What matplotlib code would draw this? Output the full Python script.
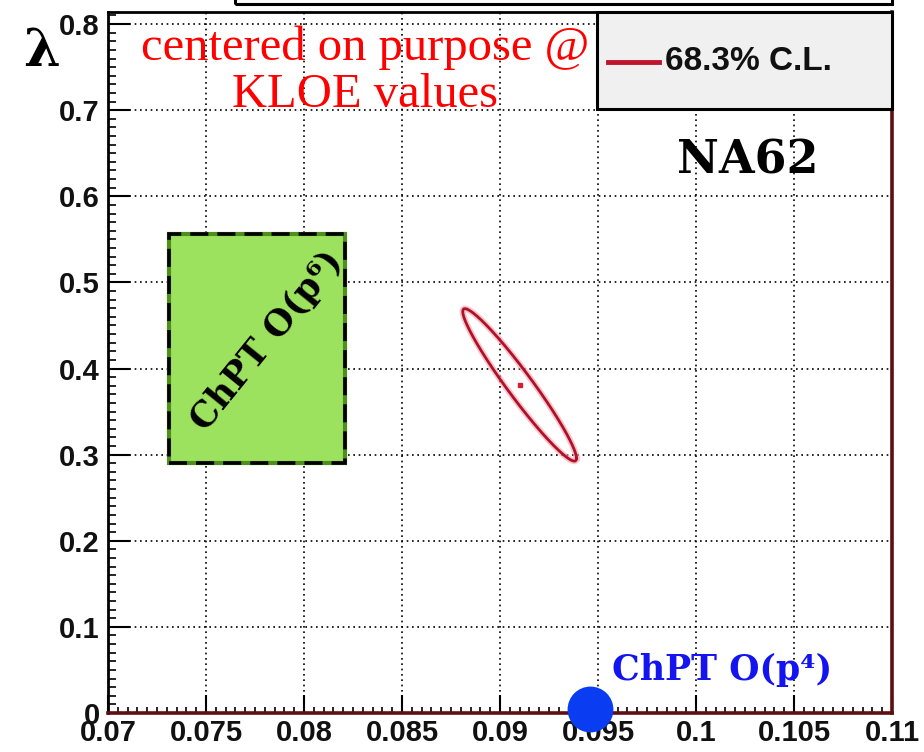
import numpy as np
import matplotlib
matplotlib.use('Agg')
import matplotlib.pyplot as plt
from matplotlib.patches import Rectangle
from matplotlib.lines import Line2D
from matplotlib.ticker import MultipleLocator

# fitted 68.3% C.L. contour (lambda' vs lambda'')
fit_center = (0.0910, 0.381)
fit_sigma = (0.0029, 0.0885)
fit_rho = -0.962

# ChPT O(p6) band
p6_x = (0.0731, 0.0821)
p6_y = (0.290, 0.556)

# ChPT O(p4) prediction
p4_point = (0.0946, 0.005)

x_ticks = [0.07, 0.075, 0.08, 0.085, 0.09, 0.095, 0.1, 0.105, 0.11]
x_labels = ['0.07', '0.075', '0.08', '0.085', '0.09', '0.095', '0.1', '0.105', '0.11']
y_ticks = [0, 0.1, 0.2, 0.3, 0.4, 0.5, 0.6, 0.7, 0.8]
y_labels = ['0', '0.1', '0.2', '0.3', '0.4', '0.5', '0.6', '0.7', '0.8']

tick_font = ['Liberation Sans', 'DejaVu Sans']
serif_bold = ['DejaVu Serif']

fig = plt.figure(figsize=(9.24, 7.52), dpi=100)
ax = fig.add_axes([108 / 924, 39 / 752, 784 / 924, 701 / 752])
ax.set_xlim(0.07, 0.11)
ax.set_ylim(0, 0.814)

# dotted grid on major ticks
ax.set_xticks(x_ticks)
ax.set_xticklabels(x_labels)
ax.set_yticks(y_ticks)
ax.set_yticklabels(y_labels)
ax.xaxis.set_minor_locator(MultipleLocator(0.0005))
ax.yaxis.set_minor_locator(MultipleLocator(0.01))
ax.grid(True, which='major', color='black', linestyle=(0, (1, 2.2)), linewidth=1.2)
ax.set_axisbelow(True)

ax.tick_params(which='major', direction='in', width=1.5, color='black')
ax.tick_params(axis='x', which='major', length=13, pad=4)
ax.tick_params(axis='y', which='major', length=16, pad=6)
ax.tick_params(axis='x', which='minor', direction='in', length=4.5, width=1.2)
ax.tick_params(axis='y', which='minor', direction='in', length=6, width=1.2)
for lab in ax.get_xticklabels() + ax.get_yticklabels():
    lab.set_family(tick_font)
    lab.set_fontweight('bold')
    lab.set_fontsize(21)
    lab.set_color('#111111')

for side in ['left', 'top']:
    ax.spines[side].set_linewidth(2)
    ax.spines[side].set_color('black')
for side in ['bottom', 'right']:
    ax.spines[side].set_linewidth(2.6)
    ax.spines[side].set_color('#5e0f0f')

# O(p6) box
rect = Rectangle((p6_x[0], p6_y[0]), p6_x[1] - p6_x[0], p6_y[1] - p6_y[0],
                 facecolor='#9de25f', edgecolor='#4f8f1c', linewidth=3, zorder=2)
ax.add_patch(rect)
rect_dash = Rectangle((p6_x[0], p6_y[0]), p6_x[1] - p6_x[0], p6_y[1] - p6_y[0],
                      fill=False, edgecolor='black', linewidth=2.6,
                      linestyle=(0, (5, 2.5)), zorder=3)
ax.add_patch(rect_dash)
ax.text(sum(p6_x) / 2 + 0.0005, sum(p6_y) / 2 + 0.009, 'ChPT O(p\u2076)', family=serif_bold,
        fontweight='bold', fontsize=25, rotation=51, rotation_mode='anchor',
        ha='center', va='center', color='black', zorder=4)

# fit contour
t = np.linspace(0, 2 * np.pi, 300)
ex = fit_center[0] + fit_sigma[0] * np.cos(t)
ey = fit_center[1] + fit_sigma[1] * (fit_rho * np.cos(t) + np.sqrt(1 - fit_rho ** 2) * np.sin(t))
ax.plot(ex, ey, color='#f2a0a8', linewidth=4.5, alpha=0.6, zorder=4)
ax.plot(ex, ey, color='#b0102a', linewidth=2, zorder=5)
ax.plot([fit_center[0]], [fit_center[1]], 's', color='#d0203a', markersize=3.5, zorder=5)

# O(p4) point
ax.plot([p4_point[0]], [p4_point[1]], 'o', color='#0a3cf2', markersize=33,
        markeredgewidth=0, clip_on=False, zorder=6)
ax.text(0.0946 + 0.0011, 0.050, 'ChPT O(p\u2074)', family=serif_bold, fontweight='bold',
        fontsize=25, color='#1414f0', ha='left', va='center')

# legend box
ax.add_patch(Rectangle((0.624, 0.861), 0.376, 0.139, transform=ax.transAxes,
                       facecolor='#f0f0f0', edgecolor='black', linewidth=2.2,
                       zorder=7, clip_on=False))
ax.add_line(Line2D([0.638, 0.703], [0.929, 0.929], transform=ax.transAxes,
                   color='#c0142e', linewidth=3.5, zorder=8))
ax.text(0.711, 0.929, '68.3% C.L.', transform=ax.transAxes, family=tick_font,
        fontweight='bold', fontsize=24, color='#111111', ha='left', va='center',
        zorder=8)

ax.text(0.10265, 0.642, 'NA62', family=serif_bold, fontweight='bold',
        fontsize=33, color='black', ha='center', va='center')

ax.text(0.0831, 0.745, 'centered on purpose @\nKLOE values', family=['Liberation Serif'],
        fontsize=35, color='red', ha='center', va='center', linespacing=1.08,
        zorder=6)

fig.text(42 / 924, 1 - 52 / 752, '\u03bb', family=serif_bold, fontweight='bold',
         fontsize=38, ha='center', va='center')

# title box edge, cut by the top of the canvas
fig.add_artist(Rectangle((235 / 924, 748 / 752), 657 / 924, 20 / 752,
                         transform=fig.transFigure, fill=False, edgecolor='black',
                         linewidth=2.2))

fig.savefig('out.png', dpi=100)
